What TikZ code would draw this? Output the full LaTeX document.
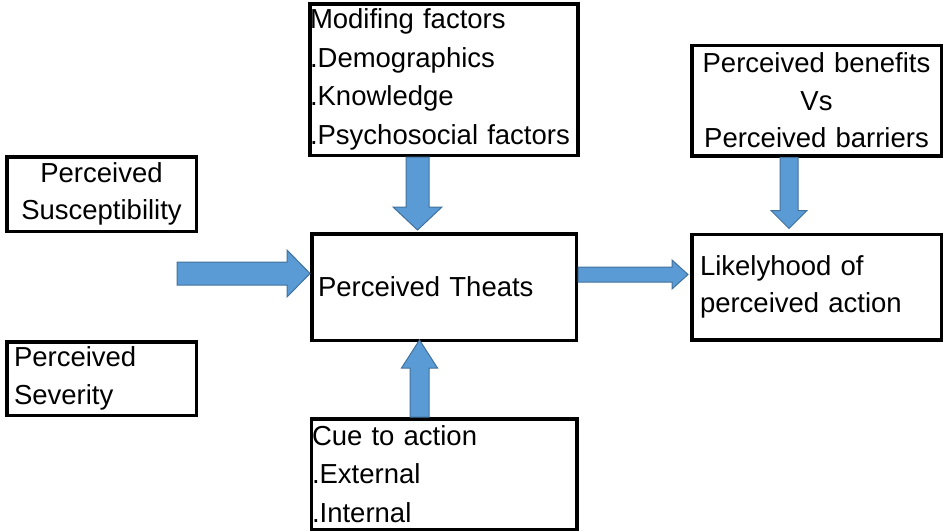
\documentclass[tikz,border=0pt]{standalone}
\usepackage{fontspec}
\setmainfont{Liberation Sans}
\usetikzlibrary{calc,positioning}
\definecolor{arrowblue}{HTML}{5B9BD5}
\definecolor{arrowedge}{HTML}{41719C}

\begin{document}
\begin{tikzpicture}[x=1pt,y=-1pt,
    box/.style={draw,rectangle,line width=3.5pt,inner sep=0pt,font=\fontsize{27.5}{37.5}\selectfont},
    list box/.style={box,align=left,font=\fontsize{27.5}{38.5}\selectfont},
    fat arrow/.style n args={3}{to path={
        ($(\tikztostart)!#1!90:(\tikztotarget)$)
        -- ($(\tikztotarget)!#3!(\tikztostart)!#1!-90:(\tikztostart)$)
        -- ($(\tikztotarget)!#3!(\tikztostart)!#2!-90:(\tikztostart)$)
        -- (\tikztotarget)
        -- ($(\tikztotarget)!#3!(\tikztostart)!#2!90:(\tikztostart)$)
        -- ($(\tikztotarget)!#3!(\tikztostart)!#1!90:(\tikztostart)$)
        -- ($(\tikztostart)!#1!-90:(\tikztotarget)$) -- cycle}}]

    \useasboundingbox (0,0) rectangle (945,531);

    \node[box,minimum width=264.5,minimum height=106.5,text width=252,align=left] (centre) at (444,287) {Perceived Theats};
    \node[list box,minimum width=266.5,minimum height=151.5,text width=268] (mod) [above=75pt of centre]
        {Modifing factors\\.Demographics\\.Knowledge\\.Psychosocial factors};
    \node[list box,minimum width=265.5,minimum height=110.5,text width=264] (cue) [below=75pt of centre]
        {Cue to action\\.External\\.Internal};
    \node[box,minimum width=249.5,minimum height=105.5,text width=233,align=left] (like) [right=112pt of centre]
        {Likelyhood of\\perceived action};
    \node[box,minimum width=249.5,minimum height=110.5,text width=249.5,align=center] (ben) [above=75pt of like]
        {Perceived benefits\\Vs\\Perceived barriers};
    \node[box,minimum width=189.5,minimum height=74.5,text width=189.5,align=center] (susc) at (101.5,194)
        {Perceived\\Susceptibility};
    \node[box,minimum width=189.5,minimum height=73.5,text width=175,align=left] (sev) at (101.5,378.5)
        {Perceived\\Severity};

    \coordinate (threat in) at (177,273.5);

    \path[every edge/.style={fill=arrowblue,draw=arrowedge,line width=1pt}]
        (threat in) edge[fat arrow={11.5pt}{23.5pt}{23pt}] (centre.west |- threat in)
        ($(mod.south)+(-26.5,0)$) edge[fat arrow={11.5pt}{24.5pt}{23pt}] ($(centre.north)+(-26.5,-2)$)
        ($(cue.north)+(-24.5,0)$) edge[fat arrow={9.5pt}{18pt}{28pt}] ($(centre.south)+(-24.5,-2)$)
        ($(centre.east)+(0,-12.5)$) edge[fat arrow={7.5pt}{14.5pt}{16pt}] ($(like.west)+(-2,-12.5)$)
        ($(ben.south)+(-27.5,0)$) edge[fat arrow={9pt}{18pt}{18pt}] ($(like.north)+(-27.5,-4)$);
\end{tikzpicture}
\end{document}
